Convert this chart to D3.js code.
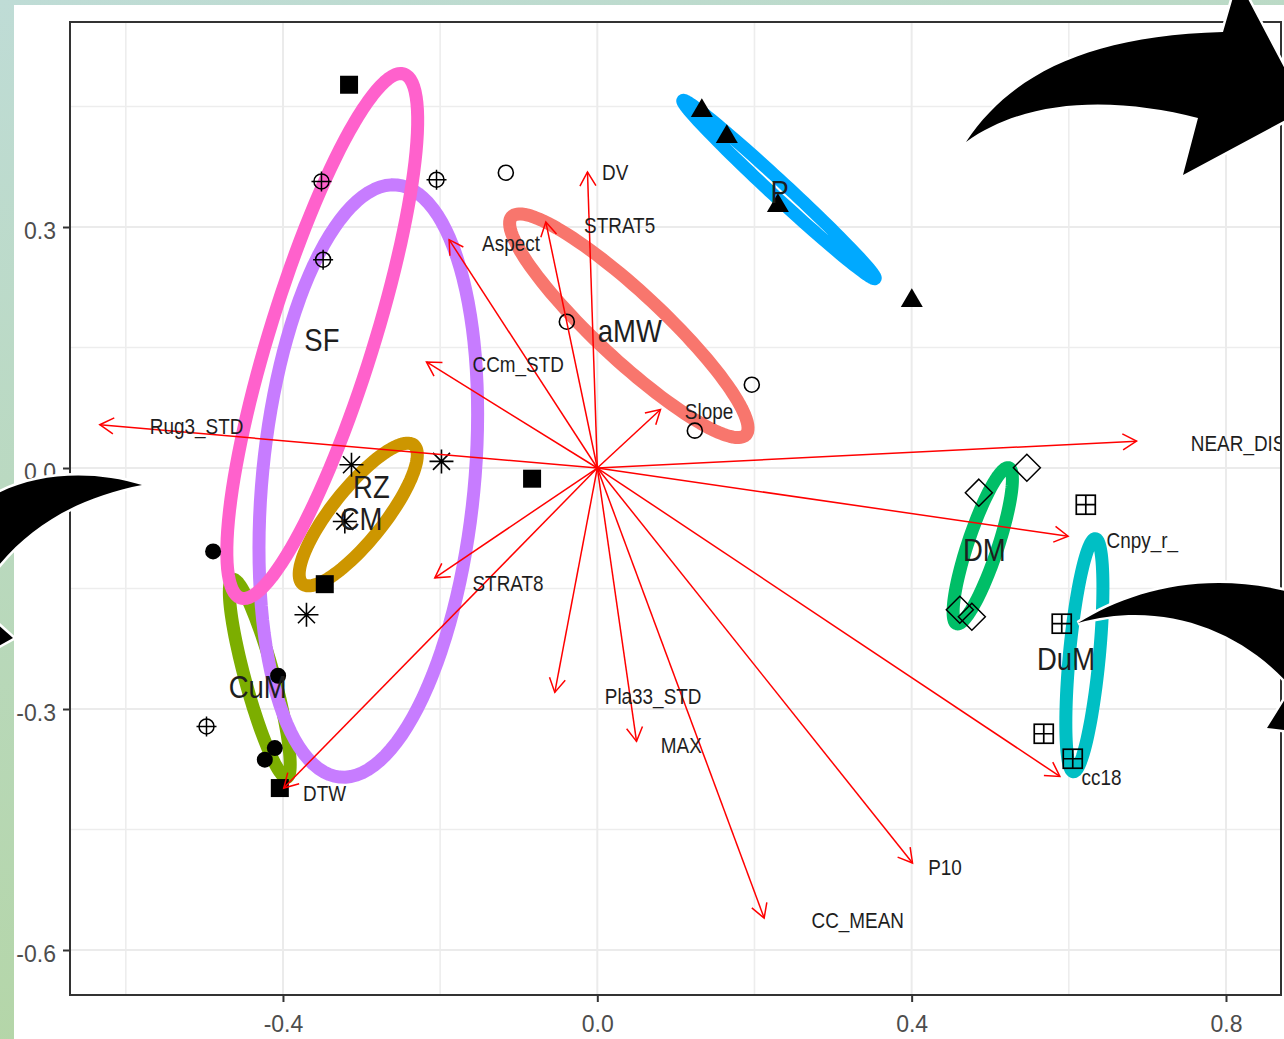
<!DOCTYPE html>
<html>
<head>
<meta charset="utf-8">
<script src="https://cdn.jsdelivr.net/npm/d3@7"></script>
<style>
  html, body { margin: 0; padding: 0; background: #fff; }
  svg { display: block; }
  text { font-family: "Liberation Sans", Arial, sans-serif; }
</style>
</head>
<body>
<svg id="chart" width="1284" height="1039"></svg>
<script>
// ---- Groups (alphabetical order, default ggplot hue palette) ----
const groups      = ["aMW", "CM", "CuM", "DM", "DuM", "P", "RZ", "SF"];
const groupColors = ["#F8766D", "#CD9600", "#7CAE00", "#00BE67", "#00BFC4", "#00A9FF", "#C77CFF", "#FF61CC"];
const groupShapes = ["circleOpen", "asterisk", "circleFill", "diamondOpen", "squarePlus", "triangle", "square", "circlePlus"];

// ---- Site scores (PC1, PC2) ----
const pointGroup = ["aMW","aMW","aMW","aMW", "CM","CM","CM","CM", "CuM","CuM","CuM","CuM",
                    "DM","DM","DM","DM", "DuM","DuM","DuM","DuM", "P","P","P","P",
                    "RZ","RZ","RZ","RZ", "SF","SF","SF","SF"];
const pointPC1 = [-0.1164, -0.0388, 0.1966, 0.1241,   -0.3128, -0.3213, -0.3701, -0.1983,
                  -0.4889, -0.4062, -0.4104, -0.4231,   0.4855, 0.5466, 0.4613, 0.4766,
                   0.6216, 0.5910, 0.5681, 0.6050,     0.1330, 0.1648, 0.2298, 0.4002,
                  -0.3159, -0.0830, -0.3468, -0.4040,  -0.3510, -0.2046, -0.3489, -0.4973];
const pointPC2 = [ 0.3676, 0.1821, 0.1037, 0.0465,    0.0041, -0.0665, -0.1826, 0.0082,
                  -0.1038, -0.2586, -0.3486, -0.3631,  -0.0307, 0.0004, -0.1764, -0.1851,
                  -0.0457, -0.1938, -0.3308, -0.3619,   0.4448, 0.4124, 0.3265, 0.2083,
                   0.4771, -0.0133, -0.1446, -0.3984,   0.3568, 0.3589, 0.2593, -0.3217];

// ---- Confidence ellipses: centre, major and minor semi-axis vectors (data units) ----
const ellCX   = [ 0.0401, -0.3042, -0.4295,  0.4905,  0.6198,  0.2312, -0.2914, -0.3500];
const ellCY   = [ 0.1771, -0.0579, -0.2619, -0.0968, -0.2330,  0.3467, -0.0162,  0.1643];
const ellMajX = [ 0.1489,  0.0706,  0.0344,  0.0331,  0.0140,  0.1223,  0.0363,  0.1037];
const ellMajY = [-0.1358,  0.0865, -0.1232,  0.0971,  0.1450, -0.1108,  0.3685,  0.3262];
const ellMinX = [-0.0290,  0.0258, -0.0178,  0.0181,  0.0190, -0.0065,  0.1343,  0.0632];
const ellMinY = [-0.0305, -0.0202, -0.0047, -0.0059, -0.0017, -0.0069, -0.0127, -0.0192];

// ---- Variable loadings (arrow tips) and label anchors ----
const varNames = ["Rug3_STD", "NEAR_DIS", "Cnpy_r_", "cc18", "P10", "CC_MEAN", "MAX", "Pla33_STD",
                  "DTW", "STRAT8", "CCm_STD", "Aspect", "STRAT5", "DV", "Slope"];
const varPC1 = [-0.6331, 0.6862, 0.5991, 0.5886, 0.4011, 0.2123, 0.0499, -0.0541,
                -0.3990, -0.2068, -0.2174, -0.1886, -0.0655, -0.0125, 0.0804];
const varPC2 = [ 0.0539, 0.0334, -0.0849, -0.3839, -0.4917, -0.5602, -0.3403, -0.2793,
                -0.3984, -0.1367, 0.1320, 0.2842, 0.3062, 0.3685, 0.0728];
const varLabelX = [-0.5694, 0.7553, 0.6480, 0.6162, 0.4210, 0.2726, 0.0808, 0.0095,
                   -0.3744, -0.1588, -0.1588, -0.1466, -0.0168, 0.0061, 0.1114];
const varLabelY = [ 0.0527, 0.0315, -0.0903, -0.3849, -0.4969, -0.5623, -0.3451, -0.2841,
                   -0.4046, -0.1429, 0.1297, 0.2794, 0.3019, 0.3682, 0.0712];

// ---- Axis ticks ----
const xTicks = [-0.4, 0.0, 0.4, 0.8];
const xTickLabels = ["-0.4", "0.0", "0.4", "0.8"];
const xMinor = [-0.6, -0.2, 0.2, 0.6];
const yTicks = [0.3, 0.0, -0.3, -0.6];
const yTickLabels = ["0.3", "0.0", "-0.3", "-0.6"];
const yMinor = [0.45, 0.15, -0.15, -0.45];

// ---- Layout ----
const W = 1284, H = 1039;
const panel = { left: 70, top: 22, right: 1281, bottom: 995 };

const x = d3.scaleLinear().domain([-0.6710, 0.8700]).range([panel.left, panel.right]);
const y = d3.scaleLinear().domain([-0.6560, 0.5552]).range([panel.bottom, panel.top]);

const svg = d3.select("#chart");
const defs = svg.append("defs");

// soft green frame behind the white page
const grad = defs.append("linearGradient").attr("id", "frameGrad")
  .attr("x1", 0).attr("y1", 0).attr("x2", 0.35).attr("y2", 1);
grad.append("stop").attr("offset", 0).attr("stop-color", "#bfdcd6");
grad.append("stop").attr("offset", 1).attr("stop-color", "#b3d5a3");
svg.append("rect").attr("width", W).attr("height", H).attr("fill", "url(#frameGrad)");
svg.append("rect").attr("x", 14).attr("y", 5).attr("width", W - 14).attr("height", H - 5).attr("fill", "#fff");

defs.append("clipPath").attr("id", "panelClip").append("rect")
  .attr("x", panel.left).attr("y", panel.top)
  .attr("width", panel.right - panel.left).attr("height", panel.bottom - panel.top);

// ---- Grid ----
const grid = svg.append("g");
grid.selectAll(".xminor").data(xMinor).join("line")
  .attr("x1", d => x(d)).attr("x2", d => x(d)).attr("y1", panel.top).attr("y2", panel.bottom)
  .attr("stroke", "#ededed").attr("stroke-width", 1.6);
grid.selectAll(".yminor").data(yMinor).join("line")
  .attr("y1", d => y(d)).attr("y2", d => y(d)).attr("x1", panel.left).attr("x2", panel.right)
  .attr("stroke", "#ededed").attr("stroke-width", 1.6);
grid.selectAll(".xmajor").data(xTicks).join("line")
  .attr("x1", d => x(d)).attr("x2", d => x(d)).attr("y1", panel.top).attr("y2", panel.bottom)
  .attr("stroke", "#ebebeb").attr("stroke-width", 2);
grid.selectAll(".ymajor").data(yTicks).join("line")
  .attr("y1", d => y(d)).attr("y2", d => y(d)).attr("x1", panel.left).attr("x2", panel.right)
  .attr("stroke", "#ebebeb").attr("stroke-width", 2);

const plot = svg.append("g").attr("clip-path", "url(#panelClip)");

// ---- Ellipses ----
const ellLine = d3.line().x(d => x(d[0])).y(d => y(d[1])).curve(d3.curveLinearClosed);
const ellData = groups.map((g, i) => {
  const pts = d3.range(120).map(k => {
    const t = k / 120 * 2 * Math.PI;
    return [ellCX[i] + ellMajX[i] * Math.cos(t) + ellMinX[i] * Math.sin(t),
            ellCY[i] + ellMajY[i] * Math.cos(t) + ellMinY[i] * Math.sin(t)];
  });
  return { g, color: groupColors[i], pts };
});
plot.selectAll(".ell").data(ellData).join("path")
  .attr("d", d => ellLine(d.pts))
  .attr("fill", "none").attr("stroke", d => d.color).attr("stroke-width", 13)
  .attr("stroke-linejoin", "round");

// ---- Points ----
const shapeOf = g => groupShapes[groups.indexOf(g)];
function drawShape(sel, shape) {
  const ink = "#000";
  if (shape === "square") {
    sel.append("rect").attr("x", -9).attr("y", -9).attr("width", 18).attr("height", 18).attr("fill", ink);
  } else if (shape === "circleFill") {
    sel.append("circle").attr("r", 8).attr("fill", ink);
  } else if (shape === "triangle") {
    sel.append("path").attr("d", "M0,-12.5L11,6.3L-11,6.3Z").attr("fill", ink);
  } else if (shape === "circleOpen") {
    sel.append("circle").attr("r", 7.5).attr("fill", "none").attr("stroke", ink).attr("stroke-width", 1.6);
  } else if (shape === "diamondOpen") {
    sel.append("path").attr("d", "M0,-13.5L13.5,0L0,13.5L-13.5,0Z")
      .attr("fill", "none").attr("stroke", ink).attr("stroke-width", 1.5);
  } else if (shape === "squarePlus") {
    sel.append("rect").attr("x", -9.5).attr("y", -9.5).attr("width", 19).attr("height", 19)
      .attr("fill", "none").attr("stroke", ink).attr("stroke-width", 1.7);
    sel.append("path").attr("d", "M-9.5,0H9.5M0,-9.5V9.5").attr("stroke", ink).attr("stroke-width", 1.7);
  } else if (shape === "circlePlus") {
    sel.append("circle").attr("r", 7.5).attr("fill", "none").attr("stroke", ink).attr("stroke-width", 1.5);
    sel.append("path").attr("d", "M-10,0H10M0,-10V10").attr("stroke", ink).attr("stroke-width", 1.5);
  } else if (shape === "asterisk") {
    sel.append("path").attr("d", "M-12,0H12M0,-12V12M-8.5,-8.5L8.5,8.5M-8.5,8.5L8.5,-8.5")
      .attr("stroke", ink).attr("stroke-width", 1.6);
  }
}
const pts = pointGroup.map((g, i) => ({ g, px: pointPC1[i], py: pointPC2[i] }));
plot.selectAll(".pt").data(pts).join("g")
  .attr("transform", d => `translate(${x(d.px)},${y(d.py)})`)
  .each(function (d) { drawShape(d3.select(this), shapeOf(d.g)); });

// ---- Loading arrows ----
const arrows = varNames.map((n, i) => ({ n, ex: varPC1[i], ey: varPC2[i], lx: varLabelX[i], ly: varLabelY[i] }));
const ag = plot.append("g").attr("stroke", "#ff0000").attr("stroke-width", 1.5).attr("fill", "none");
ag.selectAll("line").data(arrows).join("line")
  .attr("x1", x(0)).attr("y1", y(0))
  .attr("x2", d => x(d.ex)).attr("y2", d => y(d.ey));
ag.selectAll(".head").data(arrows).join("path")
  .attr("d", d => {
    const x0 = x(0), y0 = y(0), x1 = x(d.ex), y1 = y(d.ey);
    const a = Math.atan2(y1 - y0, x1 - x0), L = 16, sp = Math.PI / 6;
    const p1 = [x1 - L * Math.cos(a - sp), y1 - L * Math.sin(a - sp)];
    const p2 = [x1 - L * Math.cos(a + sp), y1 - L * Math.sin(a + sp)];
    return `M${p1[0]},${p1[1]}L${x1},${y1}L${p2[0]},${p2[1]}`;
  });

// ---- Variable labels ----
plot.selectAll(".vlab").data(arrows).join("text")
  .attr("transform", d => `translate(${x(d.lx)},${y(d.ly)}) scale(0.86,1)`)
  .attr("dy", "0.36em")
  .attr("font-size", 22).attr("fill", "#1e1e1e")
  .text(d => d.n);

// ---- Group labels at group means ----
const centres = groups.map(g => {
  const idx = d3.range(pointGroup.length).filter(i => pointGroup[i] === g);
  return { g, mx: d3.mean(idx, i => pointPC1[i]), my: d3.mean(idx, i => pointPC2[i]) };
});
plot.selectAll(".glab").data(centres).join("text")
  .attr("transform", d => `translate(${x(d.mx)},${y(d.my)}) scale(0.86,1)`)
  .attr("dy", "0.45em").attr("text-anchor", "middle")
  .attr("font-size", 32).attr("fill", "#1e1e1e")
  .text(d => d.g);

// ---- Panel border ----
svg.append("rect")
  .attr("x", panel.left).attr("y", panel.top)
  .attr("width", panel.right - panel.left).attr("height", panel.bottom - panel.top)
  .attr("fill", "none").attr("stroke", "#333").attr("stroke-width", 2);

// ---- Axes ----
const xAxis = d3.axisBottom(x).tickValues(xTicks).tickFormat((d, i) => xTickLabels[i])
  .tickSize(7).tickPadding(14);
const yAxis = d3.axisLeft(y).tickValues(yTicks).tickFormat((d, i) => yTickLabels[i])
  .tickSize(7).tickPadding(7);
const gx = svg.append("g").attr("transform", `translate(0,${panel.bottom})`).call(xAxis);
const gy = svg.append("g").attr("transform", `translate(${panel.left},0)`).call(yAxis);
[gx, gy].forEach(g => {
  g.select(".domain").remove();
  g.selectAll(".tick line").attr("stroke", "#333").attr("stroke-width", 2);
  g.selectAll(".tick text").attr("fill", "#4d4d4d").attr("font-size", 23)
    .attr("font-family", "'Liberation Sans', Arial, sans-serif");
});
gy.selectAll(".tick text").attr("dy", "0.48em");

// ---- Black pointer callouts drawn over the figure ----
const callouts = [
  "M966,142 C1010,76 1085,36 1223,32 L1238,-20 L1306,109 L1183,175 L1198,118 C1120,98 1030,96 966,142 Z",
  "M142,485 C95,470 35,472 -5,495 L-5,570 C30,525 80,497 142,485 Z",
  "M-5,622 L13,638 L-5,648 Z",
  "M1078,623 C1130,590 1210,568 1300,595 L1300,732 L1267,728 L1292,688 C1240,628 1160,600 1078,623 Z"
];
svg.append("g").selectAll("path").data(callouts).join("path")
  .attr("d", d => d)
  .attr("fill", "#000").attr("stroke", "#fff").attr("stroke-width", 5)
  .attr("stroke-linejoin", "miter").attr("paint-order", "stroke");
</script>
</body>
</html>
